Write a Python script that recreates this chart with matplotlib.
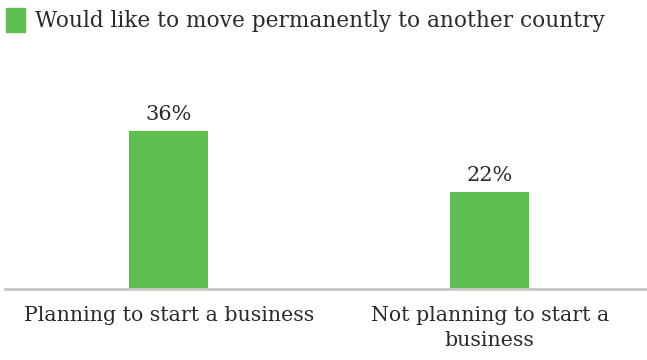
import matplotlib.pyplot as plt
from matplotlib.patches import Patch

categories = ['Planning to start a business', 'Not planning to start a\nbusiness']
values = [36, 22]
series_name = 'Would like to move permanently to another country'

green = '#5DBF4F'
text_color = '#2a2a2a'
plt.rcParams['font.family'] = ['DejaVu Serif']

fig = plt.figure(figsize=(6.47, 3.6), dpi=100)
ax = fig.add_axes([5 / 647, 71 / 360, 642 / 647, 239 / 360])

x = range(len(categories))
bars = ax.bar(x, values, width=0.245, color=green)
for b, v in zip(bars, values):
    ax.text(b.get_x() + b.get_width() / 2, v + 1.6, f'{v}%',
            ha='center', va='bottom', fontsize=15, color=text_color)

ax.set_xlim(-0.51, 1.49)
ax.set_ylim(0, 54.3)
ax.set_yticks([])
ax.set_xticks(list(x))
ax.set_xticklabels(categories, fontsize=14.8, color=text_color, linespacing=1.45)
ax.tick_params(axis='x', length=0, pad=12)
for s in ['top', 'right', 'left']:
    ax.spines[s].set_visible(False)
ax.spines['bottom'].set_color('#c8c8c8')
ax.spines['bottom'].set_linewidth(2)

fig.legend(handles=[Patch(color=green)], labels=[series_name],
           loc='upper left', bbox_to_anchor=(0.0, 0.995), frameon=False,
           fontsize=15.6, handlelength=0.85, handleheight=1.3,
           handletextpad=0.45, borderaxespad=0.0, borderpad=0.3,
           labelcolor=text_color)

fig.savefig('out.png', dpi=100)
